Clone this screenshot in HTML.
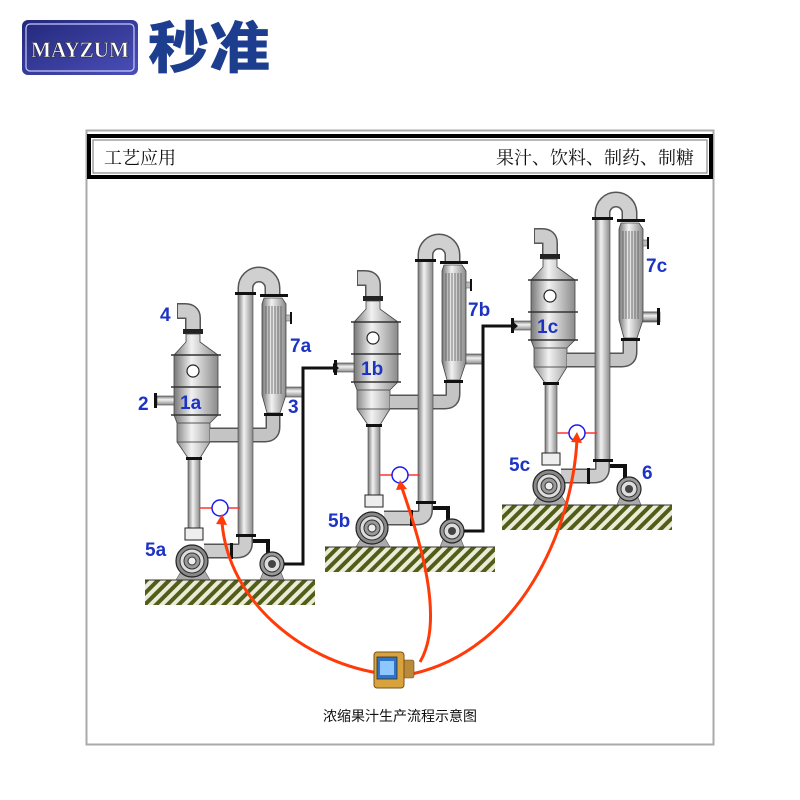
<!DOCTYPE html>
<html><head><meta charset="utf-8"><style>
body{margin:0;background:#fff;width:800px;height:800px;overflow:hidden}
svg{display:block}
</style></head><body>
<svg width="800" height="800" viewBox="0 0 800 800" xmlns="http://www.w3.org/2000/svg">
<defs>
<linearGradient id="gH" x1="0" x2="1" y1="0" y2="0"><stop offset="0" stop-color="#777"/><stop offset=".4" stop-color="#f2f2f2"/><stop offset="1" stop-color="#8a8a8a"/></linearGradient>
<linearGradient id="gV" x1="0" x2="0" y1="0" y2="1"><stop offset="0" stop-color="#777"/><stop offset=".4" stop-color="#f2f2f2"/><stop offset="1" stop-color="#8a8a8a"/></linearGradient>
<linearGradient id="gLogo" x1="0" x2="1" y1="0" y2="1"><stop offset="0" stop-color="#23287a"/><stop offset="1" stop-color="#4a4fb8"/></linearGradient>
<pattern id="hatch" width="8" height="8" patternUnits="userSpaceOnUse" patternTransform="rotate(45)"><rect width="8" height="8" fill="#ecebd8"/><rect width="4" height="8" fill="#505e1a"/></pattern>
<g id="unit">
 <path d="M193,333 V318 Q193,311 185,311 H177" fill="none" stroke="#555" stroke-width="16"/>
 <path d="M193,333 V318 Q193,311 185,311 H178" fill="none" stroke="#ccc" stroke-width="13"/>
 <rect x="183" y="329" width="20" height="5" fill="#222"/>
 <path d="M186,334 H200 V342 L218,355 V415 L210,423 V442 L200,458 H188 L177,442 V423 L174,415 V355 L186,342Z" fill="url(#gH)" stroke="#444" stroke-width=".8"/>
 <line x1="171" y1="355" x2="221" y2="355" stroke="#333" stroke-width="1.5"/>
 <line x1="171" y1="387" x2="221" y2="387" stroke="#333" stroke-width="1.5"/>
 <line x1="171" y1="415" x2="221" y2="415" stroke="#333" stroke-width="1.5"/>
 <line x1="177" y1="423" x2="210" y2="423" stroke="#555" stroke-width="1"/>
 <line x1="177" y1="442" x2="210" y2="442" stroke="#555" stroke-width="1"/>
 <circle cx="193" cy="371" r="6" fill="#fff" stroke="#222" stroke-width="1.2"/>
 <rect x="157" y="396" width="17" height="9" fill="url(#gV)" stroke="#444" stroke-width=".6"/>
 <rect x="154" y="393" width="3" height="15" fill="#111"/>
 <rect x="188" y="458" width="12" height="72" fill="url(#gH)" stroke="#444" stroke-width=".6"/>
 <rect x="186" y="457" width="16" height="3" fill="#111"/>
 <rect x="185" y="528" width="18" height="12" fill="#eee" stroke="#222" stroke-width="1"/>
 <path d="M273,414 V427 Q273,435 265,435 H210" fill="none" stroke="#555" stroke-width="15"/>
 <path d="M273,414 V427 Q273,435 265,435 H210" fill="none" stroke="#c4c4c4" stroke-width="12"/>
 <rect x="238" y="293" width="15" height="242" fill="url(#gH)" stroke="#444" stroke-width=".6"/>
 <path d="M245.5,294 V288 A13.5,13.5 0 0 1 272.5,288 V297" fill="none" stroke="#555" stroke-width="16"/>
 <path d="M245.5,294 V288 A13.5,13.5 0 0 1 272.5,288 V297" fill="none" stroke="#d0d0d0" stroke-width="13"/>
 <rect x="235" y="292" width="21" height="3" fill="#111"/>
 <path d="M264,298 H282 L286,304 V395 L280,413 H267 L262,395 V304Z" fill="url(#gH)" stroke="#444" stroke-width=".8"/>
 <rect x="260" y="294" width="28" height="3" fill="#111"/>
 <rect x="264" y="413" width="19" height="3" fill="#111"/>
 <g stroke="#555" stroke-width=".8">
  <line x1="266" y1="306" x2="266" y2="394"/><line x1="269" y1="306" x2="269" y2="394"/><line x1="272" y1="306" x2="272" y2="394"/><line x1="275" y1="306" x2="275" y2="394"/><line x1="278" y1="306" x2="278" y2="394"/><line x1="281" y1="306" x2="281" y2="394"/>
 </g>
 <rect x="286" y="315" width="5" height="6" fill="#bbb" stroke="#444" stroke-width=".5"/>
 <rect x="290" y="312" width="2" height="12" fill="#111"/>
 <rect x="286" y="387" width="17" height="10" fill="url(#gV)" stroke="#444" stroke-width=".6"/>
 <path d="M245.5,535 V543 Q245.5,551 237,551 H204" fill="none" stroke="#555" stroke-width="15"/>
 <path d="M245.5,535 V543 Q245.5,551 237,551 H204" fill="none" stroke="#ccc" stroke-width="12"/>
 <rect x="236" y="534" width="20" height="3" fill="#111"/>
 <rect x="230" y="543" width="3" height="16" fill="#111"/>
 <path d="M176,580 L183,568 H203 L210,580Z" fill="#aaa" stroke="#555" stroke-width=".6"/>
 <circle cx="192" cy="561" r="16" fill="#888" stroke="#222" stroke-width="1.2"/>
 <circle cx="192" cy="561" r="12" fill="#ddd" stroke="#333"/>
 <circle cx="192" cy="561" r="8" fill="#999" stroke="#333"/>
 <circle cx="192" cy="561" r="4" fill="#eee" stroke="#333"/>
 <path d="M253,541 H268 V562" fill="none" stroke="#111" stroke-width="4"/>
 <path d="M260,580 L264,570 H280 L284,580Z" fill="#aaa" stroke="#555" stroke-width=".6"/>
 <circle cx="272" cy="564" r="12" fill="#999" stroke="#222" stroke-width="1.2"/>
 <circle cx="272" cy="564" r="8" fill="#ddd" stroke="#333"/>
 <circle cx="272" cy="564" r="4" fill="#444"/>
 <rect x="145" y="580" width="170" height="25" fill="url(#hatch)"/>
 <line x1="145" y1="580" x2="315" y2="580" stroke="#333" stroke-width="1"/>
 <line x1="200" y1="508" x2="240" y2="508" stroke="#f33" stroke-width="1.5"/>
 <circle cx="220" cy="508" r="8" fill="#fff" stroke="#1b1bf0" stroke-width="1.5"/>
</g>
</defs>

<rect x="22" y="20" width="116" height="55" rx="6" fill="url(#gLogo)"/>
<rect x="26" y="24" width="108" height="47" rx="4" fill="none" stroke="#c8c8ff" stroke-width="1.2"/>
<text x="80" y="57" text-anchor="middle" font-family="Liberation Serif, serif" font-weight="bold" font-size="22" fill="#fff" stroke="#223" stroke-width=".5" textLength="98" lengthAdjust="spacingAndGlyphs">MAYZUM</text>
<text x="148" y="68" font-family="Noto Sans CJK SC, sans-serif" font-weight="900" font-size="56" fill="#1d3e8e" textLength="122" lengthAdjust="spacingAndGlyphs">秒准</text>

<rect x="86.5" y="130.5" width="627" height="614" fill="#fff" stroke="#aaa" stroke-width="2"/>
<rect x="89" y="136" width="622" height="41" fill="#fff" stroke="#000" stroke-width="4"/>
<rect x="93" y="140" width="614" height="33" fill="none" stroke="#888" stroke-width="1.2"/>
<text x="104" y="164" font-family="Liberation Serif, Noto Serif CJK SC, serif" font-size="18" fill="#111">工艺应用</text>
<text x="694" y="164" text-anchor="end" font-family="Liberation Serif, Noto Serif CJK SC, serif" font-size="18" fill="#111">果汁、饮料、制药、制糖</text>

<use href="#unit"/>
<use href="#unit" transform="translate(180,-33)"/>
<use href="#unit" transform="translate(357,-75)"/>

<rect x="643" y="312" width="15" height="9" fill="url(#gV)" stroke="#444" stroke-width=".6"/>
<rect x="657" y="308" width="3" height="17" fill="#111"/>

<path d="M284,564 H303 V368 H333" fill="none" stroke="#111" stroke-width="3"/>
<path d="M333,363 L339,368 L333,373Z" fill="#111"/>
<path d="M464,531 H483 V326 H512" fill="none" stroke="#111" stroke-width="3"/>
<path d="M512,321 L518,326 L512,331Z" fill="#111"/>

<g fill="none" stroke="#ff3b0a" stroke-width="3">
 <path d="M378,673 C 300,660 228,600 222,522"/>
 <path d="M420,662 C 445,620 420,540 402,488"/>
 <path d="M412,674 C 520,650 572,530 577,440"/>
</g>
<path d="M216,524 L222,514 L227,525Z" fill="#ff3b0a"/>
<path d="M396,490 L400,480 L407,489Z" fill="#ff3b0a"/>
<path d="M571,442 L577,432 L582,443Z" fill="#ff3b0a"/>

<rect x="402" y="660" width="12" height="18" rx="2" fill="#b98a3a" stroke="#6b4a15" stroke-width=".6"/>
<rect x="374" y="652" width="30" height="36" rx="3" fill="#d8a23c" stroke="#7a5215" stroke-width="1"/>
<rect x="377" y="657" width="20" height="22" fill="#2f74c8" stroke="#333" stroke-width=".8"/>
<rect x="380" y="661" width="14" height="14" fill="#8ec6ff"/>

<g font-family="Liberation Sans, sans-serif" font-weight="bold" font-size="19" fill="#1d33c4">
 <text x="160" y="321">4</text>
 <text x="138" y="410">2</text>
 <text x="180" y="409">1a</text>
 <text x="290" y="352">7a</text>
 <text x="288" y="413">3</text>
 <text x="145" y="556">5a</text>
 <text x="361" y="375">1b</text>
 <text x="468" y="316">7b</text>
 <text x="328" y="527">5b</text>
 <text x="537" y="333">1c</text>
 <text x="646" y="272">7c</text>
 <text x="509" y="471">5c</text>
 <text x="642" y="479">6</text>
</g>
<text x="400" y="721" text-anchor="middle" font-family="Liberation Sans, Noto Sans CJK SC, sans-serif" font-size="14" fill="#111">浓缩果汁生产流程示意图</text>
</svg>
</body></html>
